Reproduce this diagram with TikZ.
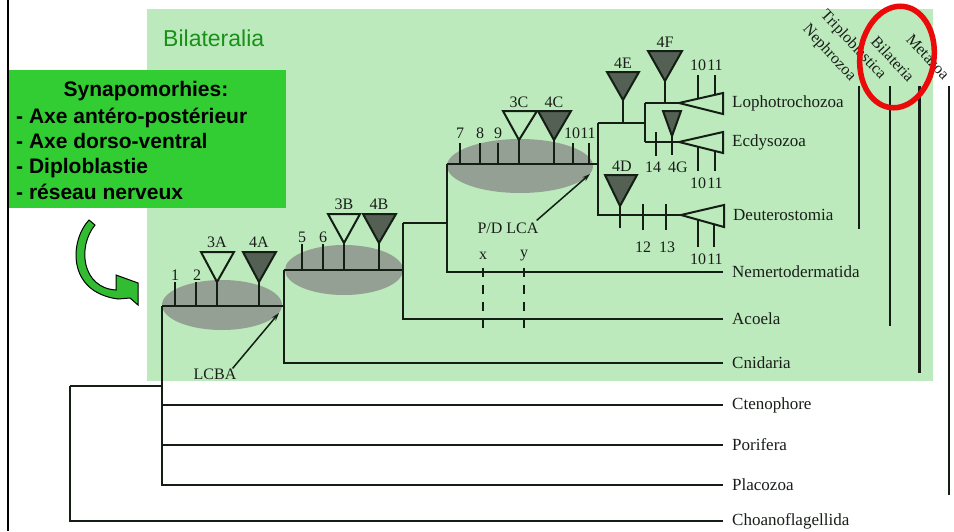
\documentclass[tikz,border=0pt]{standalone}
\usepackage{fontspec}
\setmainfont{Liberation Serif}
\newfontfamily\arialfont{Liberation Sans}
\usetikzlibrary{arrows.meta}
\definecolor{bggreen}{RGB}{188,234,188}
\definecolor{boxgreen}{RGB}{50,205,50}
\definecolor{titlegreen}{RGB}{25,145,25}
\definecolor{ellgray}{RGB}{148,160,148}
\definecolor{darktri}{RGB}{84,96,84}
\definecolor{treeline}{RGB}{20,30,20}
\definecolor{labelcol}{RGB}{25,30,25}
\definecolor{arrowgreen}{RGB}{50,188,50}
\definecolor{ringred}{RGB}{235,10,10}
\begin{document}
\begin{tikzpicture}[x=1pt,y=-1pt,
  brline/.style={draw=treeline,line width=2.3pt},
  chartick/.style={draw=treeline,line width=2.3pt},
  opentri/.style={draw=treeline,line width=2pt,line join=miter},
  filltri/.style={draw=treeline,fill=darktri,line width=2pt,line join=miter},
  taxon/.style={anchor=west,inner xsep=9pt,inner ysep=0pt,font=\fontsize{17}{17}\selectfont,text=labelcol},
  num/.style={inner sep=0pt,font=\fontsize{16}{16}\selectfont,text=labelcol},
  clade/.style={inner sep=0pt,font=\fontsize{16}{16}\selectfont,text=labelcol,rotate=-47},
  synap/.style={anchor=base west,inner sep=0pt,font=\arialfont\bfseries\fontsize{21}{21}\selectfont},
  ptr/.style={draw=treeline,line width=1.5pt,-{Stealth[length=8pt,width=5pt]}},
  xydash/.style={draw=treeline,line width=2.6pt,dash pattern=on 9pt off 8pt},
  ell/.style={fill=ellgray}
]
\useasboundingbox (0,0) rectangle (954,531);
\fill[white] (0,0) rectangle (954,531);
% hatched green background
\fill[bggreen] (147,9) rectangle (933,381);
\node[font=\arialfont\fontsize{23}{23}\selectfont,text=titlegreen,anchor=west,inner sep=0pt] (bilat) at (163,38) {Bilateralia};
% synapomorphies box
\fill[boxgreen] (8,70) rectangle (286,208);
\node[font=\arialfont\bfseries\fontsize{21}{21}\selectfont,anchor=base,inner sep=0pt] (syn) at (146,96) {Synapomorhies:};
\node[synap] (s1) at (16,123) {- Axe antéro-postérieur};
\node[synap] (s2) at (16,148) {- Axe dorso-ventral};
\node[synap] (s3) at (16,173) {- Diploblastie};
\node[synap] (s4) at (16,199) {- réseau nerveux};
\draw[line width=2.5pt] (8,0) -- (8,531);
% curved arrow
\filldraw[fill=arrowgreen,draw=black,line width=1pt,line join=miter]
  (89,220) .. controls (70,240) and (66,292) .. (118,299)
  -- (130,298) -- (138,305) -- (138,283) -- (116,275) -- (116,290)
  .. controls (82,288) and (77,247) .. (95,225) -- cycle;
% grey ellipses
\fill[ell] (222,305) ellipse [x radius=60pt, y radius=25pt];
\fill[ell] (344,270) ellipse [x radius=59pt, y radius=25pt];
\fill[ell] (520,166) ellipse [x radius=73pt, y radius=27pt];
% taxa
\node[taxon] (lopho) at (723,103) {Lophotrochozoa};
\node[taxon] (ecdy) at (723,142) {Ecdysozoa};
\node[taxon] (deut) at (724,215) {Deuterostomia};
\node[taxon] (nemer) at (723,272) {Nemertodermatida};
\node[taxon] (acoela) at (723,319) {Acoela};
\node[taxon] (cnid) at (723,363) {Cnidaria};
\node[taxon] (cteno) at (723,405) {Ctenophore};
\node[taxon] (pori) at (723,445) {Porifera};
\node[taxon] (placo) at (723,485) {Placozoa};
\node[taxon] (choano) at (723,521) {Choanoflagellida};
% internal nodes
\coordinate (root) at (70,386);
\coordinate (meta) at (162,386);
\coordinate (n1) at (162,306);
\coordinate (n1e) at (284,306);
\coordinate (n2) at (284,270);
\coordinate (n2e) at (403,270);
\coordinate (n3) at (403,223);
\coordinate (n3e) at (447,223);
\coordinate (n4) at (447,164);
\coordinate (n4e) at (598,164);
\coordinate (n5) at (598,123);
\coordinate (n5e) at (645,123);
\coordinate (ltip) at (679,103);
\coordinate (etip) at (679,142);
\coordinate (dtip) at (681,215);
% branches
\draw[brline] (root) -- (meta);
\draw[brline] (root) |- (choano.west);
\draw[brline] (n1) |- (placo.west);
\draw[brline] (162,405) -- (cteno.west);
\draw[brline] (162,445) -- (pori.west);
\draw[brline] (n1) -- (n1e);
\draw[brline] (n2) |- (cnid.west);
\draw[brline] (n2) -- (n2e);
\draw[brline] (n3) |- (acoela.west);
\draw[brline] (n3) -- (n3e);
\draw[brline] (n4) |- (nemer.west);
\draw[brline] (n4) -- (n4e);
\draw[brline] (n5) |- (dtip);
\draw[brline] (n5) -- (n5e);
\draw[brline] (645,103) -- (645,142);
\draw[brline] (645,103) -- (ltip);
\draw[brline] (645,142) -- (etip);
% terminal triangles
\draw[opentri] (ltip) -- (723,93) -- (723,114) -- cycle;
\draw[opentri] (etip) -- (723,132) -- (723,153) -- cycle;
\draw[opentri] (dtip) -- (724,205) -- (724,227) -- cycle;
% clade 1 characters
\draw[chartick] (175,306) -- (175,282);
\draw[chartick] (196,306) -- (196,282);
\draw[chartick] (217,306) -- (217,282);
\draw[chartick] (259,306) -- (259,282);
\draw[opentri] (201,252) -- (234,252) -- (217,282) -- cycle;
\draw[filltri] (243,252) -- (276,252) -- (259,282) -- cycle;
\node[num] (l1) at (175,275) {1};
\node[num] (l2) at (197,275) {2};
\node[num] (l3a) at (217,242) {3A};
\node[num] (l4a) at (259,242) {4A};
% clade 2 characters
\draw[chartick] (302,270) -- (302,244);
\draw[chartick] (323,270) -- (323,244);
\draw[chartick] (344,270) -- (344,243);
\draw[chartick] (379,270) -- (379,243);
\draw[opentri] (328,214) -- (360,214) -- (344,243) -- cycle;
\draw[filltri] (363,214) -- (396,214) -- (379,243) -- cycle;
\node[num] (l5) at (302,237) {5};
\node[num] (l6) at (323,237) {6};
\node[num] (l3b) at (344,204) {3B};
\node[num] (l4b) at (379,204) {4B};
% clade 3 characters
\foreach \xx in {460,480,498,573,589} {\draw[chartick] (\xx,164) -- (\xx,143);}
\draw[chartick] (519,164) -- (519,140);
\draw[chartick] (554,164) -- (554,140);
\draw[opentri] (503,111) -- (537,111) -- (519,140) -- cycle;
\draw[filltri] (538,111) -- (571,111) -- (554,140) -- cycle;
\node[num] (l7) at (460,133) {7};
\node[num] (l8) at (480,133) {8};
\node[num] (l9) at (498,133) {9};
\node[num] (l10c) at (572,133) {10};
\node[num] (l11c) at (588,133) {11};
\node[num] (l3c) at (519,102) {3C};
\node[num] (l4c) at (554,102) {4C};
% 4E
\draw[chartick] (623,123) -- (623,100);
\draw[filltri] (607,72) -- (639,72) -- (623,100) -- cycle;
\node[num] (l4e) at (623,63) {4E};
% 4F
\draw[chartick] (665,103) -- (665,81);
\draw[filltri] (648,51) -- (682,51) -- (665,81) -- cycle;
\node[num] (l4f) at (665,42) {4F};
% Lophotrochozoa 10 11
\draw[chartick] (698,75) -- (698,98.7);
\draw[chartick] (715,75) -- (715,94.8);
\node[num] (l10l) at (698,65) {10};
\node[num] (l11l) at (715,65) {11};
% Ecdysozoa characters
\draw[chartick] (656,132) -- (656,156);
\node[num] (l14) at (653,167) {14};
\draw[chartick] (672,135) -- (672,155);
\draw[filltri] (663,111) -- (681,111) -- (672,136) -- cycle;
\node[num] (l4g) at (678,167) {4G};
\draw[chartick] (698,146.8) -- (698,171);
\draw[chartick] (715,151) -- (715,171);
\node[num] (l10e) at (698,183) {10};
\node[num] (l11e) at (715,183) {11};
% Deuterostomia characters
\draw[chartick] (620,205) -- (620,228);
\draw[filltri] (605,175) -- (637,175) -- (620,206) -- cycle;
\node[num] (l4d) at (622,166) {4D};
\draw[chartick] (643,204) -- (643,230);
\draw[chartick] (666,204) -- (666,230);
\node[num] (l12) at (643,247) {12};
\node[num] (l13) at (667,247) {13};
\draw[chartick] (698,219.7) -- (698,247);
\draw[chartick] (714,224.2) -- (714,247);
\node[num] (l10d) at (698,259) {10};
\node[num] (l11d) at (715,259) {11};
% x and y
\node[num] (xl) at (483,256) {x};
\node[num] (yl) at (524,256) {y};
\draw[xydash] (483,268) -- (483,334);
\draw[xydash] (524,268) -- (524,334);
% LCA pointers
\node[num] (lcba) at (215,374) {LCBA};
\draw[ptr] ([xshift=-4pt]lcba.north east) -- (279,313);
\node[num] (pdlca) at (508,228) {P/D LCA};
\draw[ptr] ([xshift=-2pt,yshift=2pt]pdlca.north east) -- (590,174);
% clade bars
\draw[draw=treeline,line width=1.5pt] (859,86) -- (859,229);
\draw[draw=treeline,line width=2pt] (890,86) -- (890,326);
\draw[draw=treeline,line width=3pt] (919,86) -- (919,373);
\draw[draw=treeline,line width=2.5pt] (949,86) -- (949,495);
\node[clade] (nephro) at (829,53) {Nephrozoa};
\node[clade] (triplo) at (853,45) {Triploblastica};
\node[clade] (bilateria) at (893,59) {Bilateria};
\node[clade] (metazoa) at (928,57) {Metazoa};
% red ring
\draw[ringred,line width=5.5pt,rotate around={-8:(897,57)}] (897,57) ellipse [x radius=37pt, y radius=51pt];
\end{tikzpicture}
\end{document}
